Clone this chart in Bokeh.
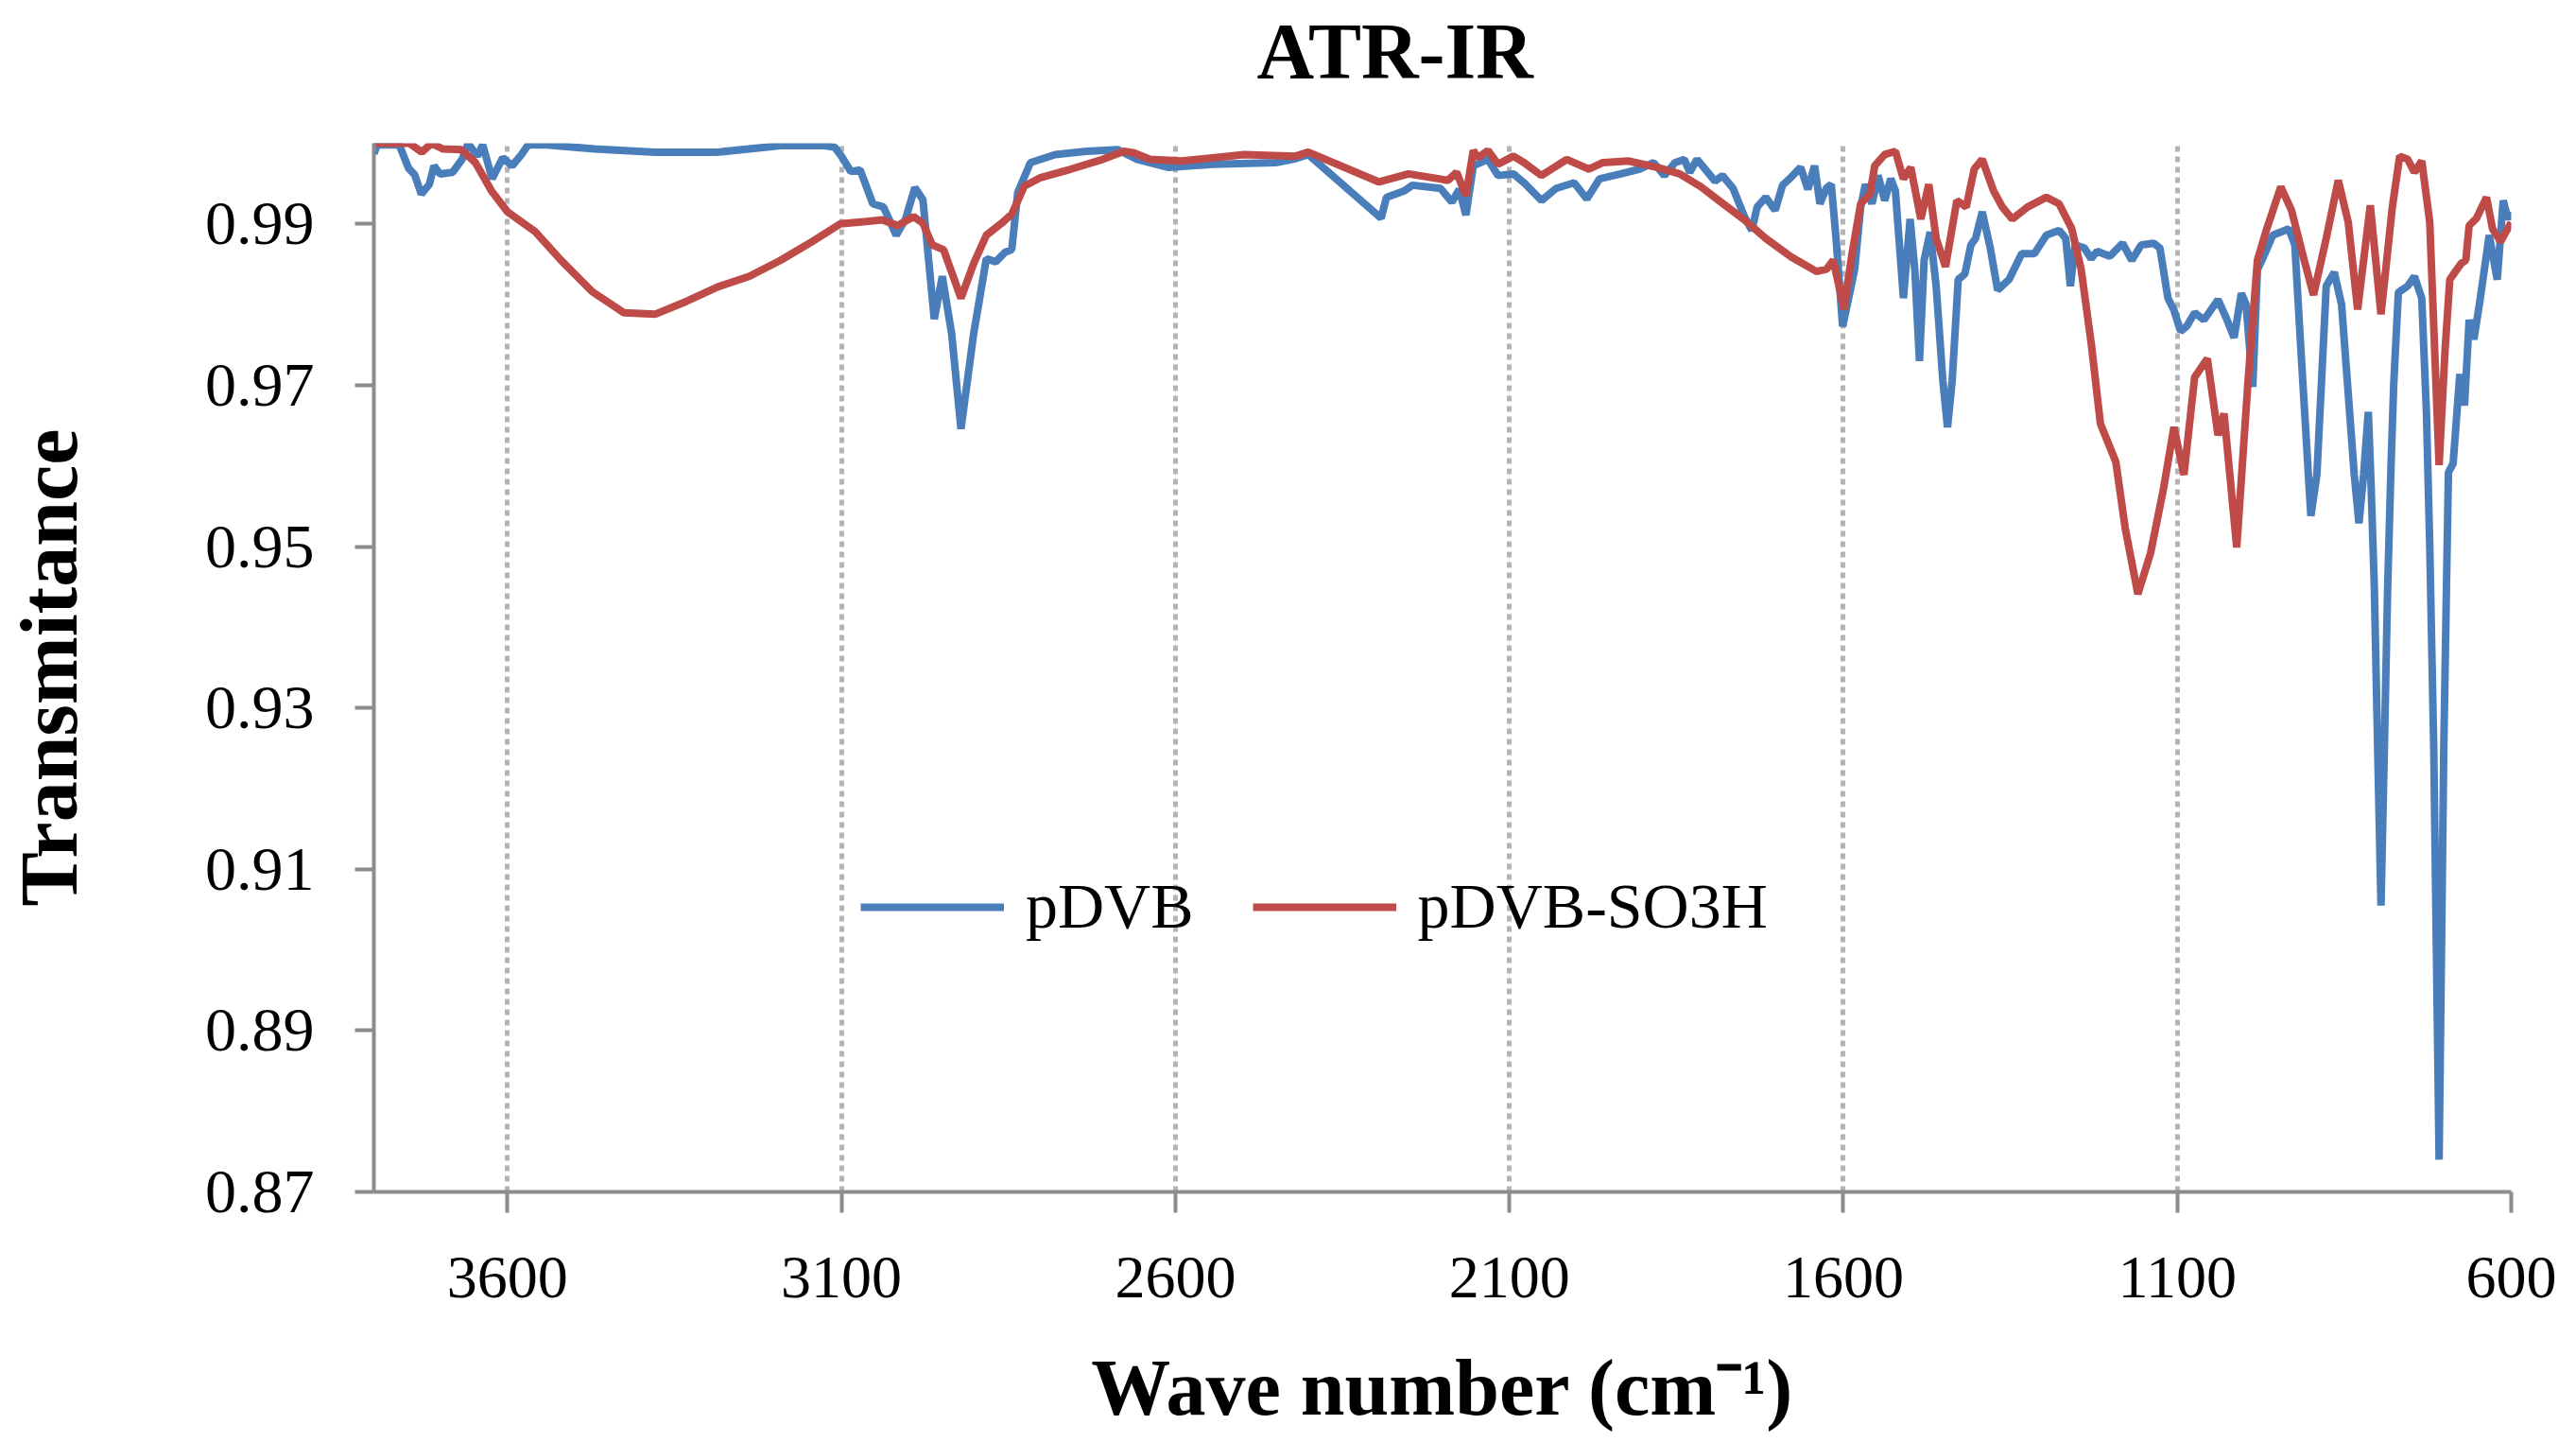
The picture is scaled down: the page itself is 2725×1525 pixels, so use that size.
from bokeh.plotting import figure
from bokeh.models import Range1d, FixedTicker, Legend, LegendItem, PrintfTickFormatter, Title
from bokeh.embed import file_html
from bokeh.resources import INLINE

# ---------------- data ----------------
x_ticks = [3600, 3100, 2600, 2100, 1600, 1100, 600]
y_ticks = [0.87, 0.89, 0.91, 0.93, 0.95, 0.97, 0.99]

wn_pdvb = [3800, 3795, 3762, 3748, 3739, 3729, 3717, 3710, 3701, 3682, 3668, 3659, 3645, 3637, 3623,
           3607, 3593, 3579, 3569, 3541, 3470, 3379, 3285, 3191, 3125, 3110, 3100, 3086, 3072, 3053,
           3037, 3018, 3004, 2990, 2978, 2961, 2949, 2935, 2921, 2902, 2883, 2869, 2855, 2845, 2836,
           2817, 2780, 2733, 2686, 2657, 2610, 2544, 2450, 2420, 2401, 2292, 2284, 2257, 2245, 2203,
           2186, 2175, 2165, 2154, 2132, 2117, 2094, 2078, 2052, 2030, 2003, 1984, 1965, 1933, 1905,
           1884, 1868, 1852, 1838, 1830, 1819, 1792, 1781, 1765, 1748, 1737, 1729, 1716, 1702, 1691,
           1678, 1664, 1653, 1643, 1635, 1625, 1618, 1611, 1601, 1592, 1583, 1574, 1567, 1557, 1548,
           1538, 1529, 1522, 1510, 1500, 1493, 1486, 1479, 1470, 1461, 1451, 1444, 1437, 1428, 1418,
           1409, 1402, 1392, 1380, 1369, 1352, 1333, 1314, 1296, 1277, 1267, 1260, 1253, 1239, 1229,
           1220, 1201, 1182, 1168, 1154, 1135, 1126, 1114, 1105, 1095, 1086, 1074, 1060, 1039, 1027,
           1015, 1004, 997, 987, 980, 971, 957, 933, 924, 915, 900, 891, 877, 865, 854,
           835, 828, 821, 814, 810, 805, 800, 795, 790, 785, 780, 776, 769, 755, 745,
           734, 727, 722, 716, 708, 701, 697, 694, 687, 677, 670, 663, 656, 647, 633,
           621, 612, 605, 601]
t_pdvb = [0.9987, 0.9998, 0.9998, 0.9969, 0.9961, 0.9937, 0.9949, 0.9972, 0.9962, 0.9964, 0.9980, 1.0000, 0.9984, 0.9998, 0.9956,
          0.9982, 0.9972, 0.9986, 0.9998, 0.9998, 0.9993, 0.9989, 0.9989, 0.9997, 0.9997, 0.9995, 0.9984, 0.9965, 0.9967, 0.9925,
          0.9921, 0.9886, 0.9906, 0.9945, 0.9930, 0.9782, 0.9835, 0.9764, 0.9646, 0.9764, 0.9857, 0.9853, 0.9865, 0.9868, 0.9939,
          0.9976, 0.9986, 0.9990, 0.9992, 0.9980, 0.9970, 0.9974, 0.9976, 0.9981, 0.9986, 0.9907, 0.9933, 0.9941, 0.9948, 0.9944,
          0.9927, 0.9943, 0.9911, 0.9972, 0.9980, 0.9960, 0.9962, 0.9951, 0.9929, 0.9944, 0.9951, 0.9931, 0.9956, 0.9962, 0.9968,
          0.9976, 0.9960, 0.9976, 0.9980, 0.9964, 0.9980, 0.9953, 0.9960, 0.9944, 0.9909, 0.9892, 0.9921, 0.9933, 0.9917, 0.9948,
          0.9958, 0.9970, 0.9943, 0.9972, 0.9925, 0.9945, 0.9949, 0.9883, 0.9773, 0.9808, 0.9844, 0.9921, 0.9949, 0.9925, 0.9960,
          0.9929, 0.9956, 0.9941, 0.9808, 0.9906, 0.9844, 0.9730, 0.9855, 0.9890, 0.9823, 0.9706, 0.9648, 0.9706, 0.9831, 0.9838,
          0.9874, 0.9882, 0.9915, 0.9870, 0.9818, 0.9831, 0.9863, 0.9863, 0.9886, 0.9892, 0.9882, 0.9823, 0.9874, 0.9870, 0.9857,
          0.9866, 0.9860, 0.9876, 0.9855, 0.9874, 0.9876, 0.9870, 0.9808, 0.9793, 0.9767, 0.9773, 0.9790, 0.9781, 0.9806, 0.9784,
          0.9759, 0.9814, 0.9800, 0.9698, 0.9843, 0.9859, 0.9886, 0.9894, 0.9874, 0.9745, 0.9538, 0.9589, 0.9823, 0.9840, 0.9800,
          0.9589, 0.9529, 0.9589, 0.9667, 0.9580, 0.9450, 0.9250, 0.9055, 0.9250, 0.9450, 0.9600, 0.9700, 0.9815, 0.9823, 0.9835,
          0.9808, 0.9667, 0.9500, 0.9250, 0.8740, 0.9250, 0.9450, 0.9592, 0.9603, 0.9714, 0.9675, 0.9781, 0.9757, 0.9804, 0.9886,
          0.9831, 0.9929, 0.9906, 0.9915]

wn_so3h = [3800, 3747, 3728, 3714, 3697, 3669, 3648, 3624, 3600, 3558, 3520, 3473, 3426, 3379, 3332,
           3285, 3238, 3191, 3144, 3102, 3063, 3039, 3016, 2992, 2978, 2964, 2947, 2921, 2902, 2883,
           2860, 2845, 2826, 2803, 2756, 2709, 2677, 2662, 2638, 2591, 2497, 2420, 2401, 2295, 2251,
           2192, 2179, 2165, 2154, 2147, 2132, 2117, 2094, 2078, 2052, 2014, 1981, 1960, 1922, 1878,
           1845, 1813, 1780, 1748, 1716, 1678, 1640, 1625, 1615, 1599, 1587, 1574, 1560, 1553, 1538,
           1522, 1510, 1499, 1484, 1472, 1461, 1447, 1430, 1416, 1404, 1392, 1375, 1362, 1347, 1324,
           1296, 1277, 1258, 1244, 1229, 1215, 1192, 1178, 1159, 1140, 1121, 1105, 1090, 1074, 1055,
           1039, 1030, 1011, 994, 980, 966, 945, 929, 910, 896, 877, 859, 844, 830, 811,
           795, 778, 767, 755, 745, 734, 722, 708, 699, 692, 675, 668, 663, 652, 637,
           628, 616, 600]
t_so3h = [1.0000, 1.0000, 0.9989, 1.0000, 0.9993, 0.9992, 0.9976, 0.9941, 0.9915, 0.9890, 0.9855, 0.9816, 0.9790, 0.9788, 0.9804,
          0.9822, 0.9835, 0.9855, 0.9878, 0.9900, 0.9903, 0.9905, 0.9898, 0.9909, 0.9901, 0.9874, 0.9868, 0.9808, 0.9851, 0.9886,
          0.9901, 0.9912, 0.9947, 0.9957, 0.9968, 0.9980, 0.9990, 0.9988, 0.9980, 0.9978, 0.9986, 0.9984, 0.9989, 0.9952, 0.9962,
          0.9954, 0.9964, 0.9935, 0.9991, 0.9982, 0.9991, 0.9974, 0.9984, 0.9976, 0.9960, 0.9980, 0.9968, 0.9976, 0.9978, 0.9970,
          0.9962, 0.9946, 0.9925, 0.9905, 0.9882, 0.9859, 0.9841, 0.9844, 0.9855, 0.9794, 0.9863, 0.9925, 0.9937, 0.9972, 0.9986,
          0.9990, 0.9956, 0.9970, 0.9906, 0.9949, 0.9882, 0.9847, 0.9929, 0.9921, 0.9968, 0.9980, 0.9941, 0.9921, 0.9906, 0.9921,
          0.9933, 0.9925, 0.9894, 0.9844, 0.9753, 0.9652, 0.9605, 0.9523, 0.9441, 0.9492, 0.9570, 0.9648, 0.9589, 0.9710, 0.9733,
          0.9638, 0.9665, 0.9499, 0.9706, 0.9855, 0.9894, 0.9946, 0.9917, 0.9855, 0.9812, 0.9882, 0.9954, 0.9902, 0.9794, 0.9923,
          0.9788, 0.9921, 0.9984, 0.9980, 0.9964, 0.9978, 0.9902, 0.9601, 0.9745, 0.9831, 0.9851, 0.9855, 0.9898, 0.9907, 0.9933,
          0.9894, 0.9878, 0.9902]

series_names = ["pDVB", "pDVB-SO3H"]
series_colors = ["#4a7ebb", "#be4b48"]
title_text = "ATR-IR"
x_label = "Wave number (cm\u207b\u00b9)"
y_label = "Transmitance"

FONT = "Liberation Serif"
FRAME_W, FRAME_H = 2261, 1109

p = figure(title=None, frame_width=FRAME_W, frame_height=FRAME_H,
           x_range=Range1d(3800, 600), y_range=Range1d(0.87, 1.0),
           output_backend="svg", toolbar_location=None,
           min_border_left=394, min_border_right=50, min_border_top=151, min_border_bottom=249,
           background_fill_color="white", border_fill_color="white")
p.outline_line_color = None

# spacer between frame and title, then the title itself
spacer = Title(text=" ", text_font_size="2px", standoff=46)
p.add_layout(spacer, "above")
main_title = Title(text=title_text, align="left", offset=934, vertical_align="middle", standoff=0,
                   text_font=FONT, text_font_style="bold", text_font_size="84px", text_color="black")
p.add_layout(main_title, "above")

# grids
p.ygrid.visible = False
p.xgrid.ticker = FixedTicker(ticks=x_ticks)
p.xgrid.grid_line_color = "#b4b4b4"
p.xgrid.grid_line_width = 5
p.xgrid.grid_line_dash = "6 5"

# axes
for ax in (p.xaxis[0], p.yaxis[0]):
    ax.axis_line_color = "#8c8c8c"
    ax.axis_line_width = 4
    ax.major_tick_line_color = "#8c8c8c"
    ax.major_tick_line_width = 4
    ax.major_tick_in = 0
    ax.minor_tick_line_color = None
    ax.major_label_text_font = FONT
    ax.major_label_text_color = "black"
    ax.axis_label_text_font = FONT
    ax.axis_label_text_font_style = "bold"
    ax.axis_label_text_color = "black"

p.xaxis.ticker = FixedTicker(ticks=x_ticks)
p.xaxis.formatter = PrintfTickFormatter(format="%d")
p.xaxis.major_tick_out = 22
p.xaxis.major_label_standoff = 47
p.xaxis.major_label_text_font_size = "64px"
p.xaxis.axis_label = x_label
p.xaxis.axis_label_text_font_size = "84px"
p.xaxis.axis_label_standoff = 46

p.yaxis.ticker = FixedTicker(ticks=y_ticks)
p.yaxis.formatter = PrintfTickFormatter(format="%.2f")
p.yaxis.major_tick_out = 20
p.yaxis.major_label_standoff = 43
p.yaxis.major_label_text_font_size = "66px"
p.yaxis.axis_label = y_label
p.yaxis.axis_label_text_font_size = "86px"
p.yaxis.axis_label_standoff = 114

r1 = p.line(wn_pdvb, t_pdvb, line_color=series_colors[0], line_width=8)
r2 = p.line(wn_so3h, t_so3h, line_color=series_colors[1], line_width=8)

legend = Legend(items=[LegendItem(label=series_names[0], renderers=[r1]),
                       LegendItem(label=series_names[1], renderers=[r2])],
                orientation="horizontal", location=(515, 262),
                border_line_color=None, background_fill_alpha=0,
                padding=0, margin=0, spacing=62, label_standoff=23,
                glyph_width=152, glyph_height=40,
                label_text_font=FONT, label_text_font_size="68px", label_text_color="black")
p.add_layout(legend, "center")

open("out.html", "w").write(file_html(p, INLINE))
